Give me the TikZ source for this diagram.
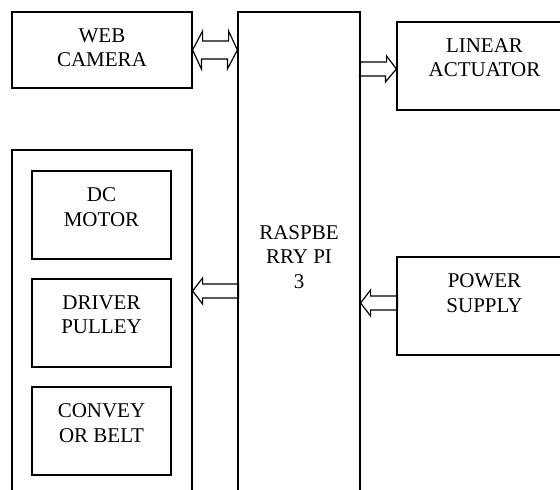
\documentclass[tikz,border=0pt]{standalone}
\usepackage{fontspec}
\setmainfont{Liberation Serif}

\begin{document}
\begin{tikzpicture}[x=1pt, y=-1pt,
		box/.style={draw, line width=1.2pt, inner sep=0pt},
		txt/.style={align=center, inner sep=0pt, font=\fontsize{21pt}{24.5pt}\selectfont},
		blockarrow/.style={draw, line width=1.2pt, line join=miter}]
		\useasboundingbox (0,0) rectangle (560,490);
		\clip (0,0) rectangle (560,490);
		\node[box, minimum width=180pt, minimum height=76pt, label={[txt, anchor=north, yshift=-17pt]north:WEB\\CAMERA}] (cam) at (102,50) {};
		\node[box, txt, minimum width=122pt, minimum height=490pt] (pi) at (299,257) {RASPBE\\RRY PI\\3};
		\node[box, minimum width=175pt, minimum height=88pt, label={[txt, anchor=north, yshift=-17pt]north:LINEAR\\ACTUATOR}] (act) at (484.5,66) {};
		\node[box, minimum width=175pt, minimum height=98pt, label={[txt, anchor=north, yshift=-17pt]north:POWER\\SUPPLY}] (psu) at (484.5,306) {};
		\node[box, minimum width=180pt, minimum height=352pt] (grp) at (102,326) {};
		\node[box, minimum width=139pt, minimum height=88pt, label={[txt, anchor=north, yshift=-17pt]north:DC\\MOTOR}] (dcm) at (101.5,215) {};
		\node[box, minimum width=139pt, minimum height=88pt, label={[txt, anchor=north, yshift=-17pt]north:DRIVER\\PULLEY}] (drv) at (101.5,323) {};
		\node[box, minimum width=139pt, minimum height=88pt, label={[txt, anchor=north, yshift=-17pt]north:CONVEY\\OR BELT}] (cnv) at (101.5,431) {};

		\coordinate (t1) at ([yshift=-3pt]act.west);
		\coordinate (t2) at ([yshift=35pt]grp.east);
		\coordinate (t3) at ([yshift=3pt]psu.west);

		\draw[blockarrow] (cam.east) -- ++(10,-19) -- ++(0,10) -- ++(26,0) -- ++(0,-10) -- (pi.west |- cam.east) -- ++(-10,19) -- ++(0,-10) -- ++(-26,0) -- ++(0,10) -- cycle;
		\draw[blockarrow] (pi.east |- t1) ++(0,-7) -- ++(26,0) -- ++(0,-6) -- (t1) -- ++(-11,13) -- ++(0,-6) -- ++(-26,0) -- cycle;
		\draw[blockarrow] (t2) -- ++(10,-13) -- ++(0,6) -- ++(36,0) -- ++(0,14) -- ++(-36,0) -- ++(0,6) -- cycle;
		\draw[blockarrow] (pi.east |- t3) -- ++(10,-13) -- ++(0,6) -- ++(27,0) -- ++(0,14) -- ++(-27,0) -- ++(0,6) -- cycle;
	\end{tikzpicture}
\end{document}
